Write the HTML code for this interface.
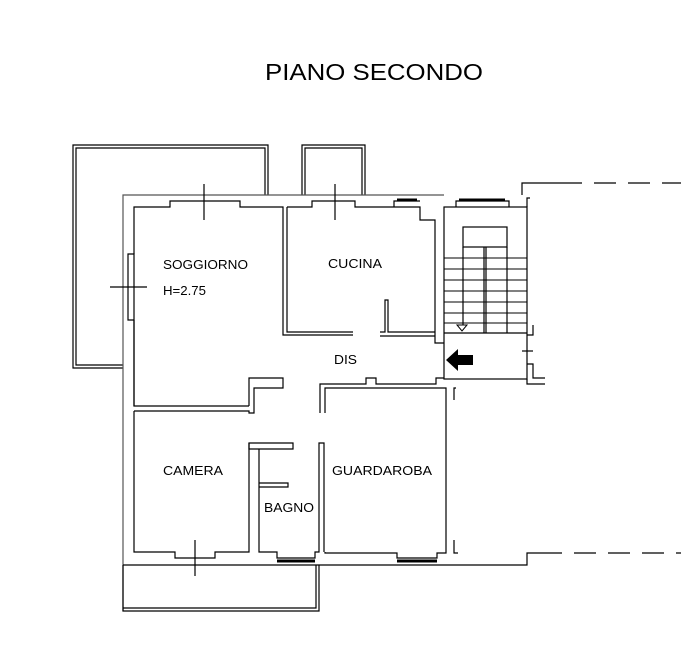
<!DOCTYPE html>
<html><head><meta charset="utf-8"><style>
html,body{margin:0;padding:0;background:#fff;width:681px;height:645px;overflow:hidden}
svg{display:block}
text{font-family:"Liberation Sans",sans-serif;fill:#000}
</style></head><body>
<svg width="681" height="645" viewBox="0 0 681 645" xmlns="http://www.w3.org/2000/svg">
<g fill="none" stroke="#000" stroke-width="1.2">
<polyline points="123,368 73,368 73,145 268,145 268,195"/>
<polyline points="123,365 76,365 76,148 265,148 265,195"/>
<polyline points="302,195 302,145 365,145 365,195"/>
<polyline points="305,195 305,148 362,148 362,195"/>
<polyline points="123,611 123,195 444,195" stroke="#555"/>
<polyline points="249,406 134,406 134,254 128,254 128,320 134,320"/>
<polyline points="134,254 134,207 170,207 170,201 240,201 240,207 283,207 283,335 353,335"/>
<polyline points="287,207 287,332 353,332"/>
<line x1="134" y1="320" x2="134" y2="406"/>
<polyline points="287,207 312,207 312,201 355,201 355,207 420,207 420,220 435,220 435,343 444,343"/>
<polyline points="380,332 385,332 385,300 388,300 388,332 435,332"/>
<line x1="380" y1="336" x2="435" y2="336"/>
<rect x="444" y="207" width="83" height="172"/>
<rect x="463" y="227" width="44" height="20"/>
<line x1="463" y1="247" x2="463" y2="325"/>
<line x1="507" y1="247" x2="507" y2="333"/>
<line x1="484" y1="247" x2="484" y2="333"/>
<line x1="486" y1="247" x2="486" y2="333"/>
<line x1="444" y1="333" x2="527" y2="333"/>
<polyline points="456,207 456,201 509,201 509,207"/>
<polyline points="394,207 394,201 420,201"/>
<polyline points="527,207 527,198 530,198"/>
<polyline points="522,195 522,183 560,183" />
<line x1="560" y1="183" x2="681" y2="183" stroke-dasharray="22,12"/>
<polyline points="533,325 533,335 527,335"/>
<line x1="522" y1="351" x2="533" y2="351"/>
<polyline points="527,364 533,364 533,378 545,378"/>
<polyline points="527,379 527,384 545,384"/>
<polyline points="134,411 249,411 249,413 254,413 254,388 283,388 283,378 249,378 249,406"/>
<polyline points="134,411 134,552 175,552 175,558 215,558 215,552 249,552 249,443 258,443"/>
<polyline points="249,443 249,449 293,449 293,443 258,443"/>
<polyline points="259,449 259,552 277,552 277,558 315,558 315,552 319,552 319,443 324,443 324,552"/>
<polyline points="259,483 288,483 288,487 259,487"/>
<polyline points="320,413 320,384 366,384 366,378 376,378 376,384 436,384 436,378 444,378"/>
<polyline points="325,413 325,388 446,388 446,553 437,553 437,558 397,558 397,553 325,553 325,552"/>
<polyline points="456,388 454,388 454,400"/>
<polyline points="454,540 454,553 458,553"/>
<polyline points="123,565 380,565 520,565 527,565 527,553 540,553"/>
<line x1="540" y1="553" x2="681" y2="553" stroke-dasharray="22,12"/>
<polyline points="123,565 123,611 319,611 319,565"/>
<polyline points="123,608 316,608 316,565"/>
<line x1="204" y1="184" x2="204" y2="220"/>
<line x1="335" y1="184" x2="335" y2="220"/>
<line x1="110" y1="287" x2="147" y2="287"/>
<line x1="195" y1="540" x2="195" y2="576"/>
</g>
<g stroke="#000" stroke-width="3">
<line x1="397" y1="200" x2="417" y2="200"/>
<line x1="459" y1="200" x2="505" y2="200"/>
<line x1="277" y1="561" x2="315" y2="561"/>
<line x1="397" y1="561" x2="437" y2="561"/>
</g>
<g stroke="#000" stroke-width="1">
<line x1="444" y1="258" x2="527" y2="258"/>
<line x1="444" y1="269" x2="527" y2="269"/>
<line x1="444" y1="280" x2="527" y2="280"/>
<line x1="444" y1="291" x2="527" y2="291"/>
<line x1="444" y1="302" x2="527" y2="302"/>
<line x1="444" y1="313" x2="527" y2="313"/>
<line x1="444" y1="323" x2="527" y2="323"/>
</g>
<polygon points="457,325 467,325 462,331" fill="#fff" stroke="#000"/>
<polygon points="446,360 458,349 458,355 473,355 473,365 458,365 458,371" fill="#000"/>
<text x="265" y="80" font-size="23" textLength="218" lengthAdjust="spacingAndGlyphs">PIANO SECONDO</text>
<text x="163" y="269" font-size="13" textLength="85" lengthAdjust="spacingAndGlyphs">SOGGIORNO</text>
<text x="163" y="295" font-size="13" textLength="43" lengthAdjust="spacingAndGlyphs">H=2.75</text>
<text x="328" y="268" font-size="13" textLength="54" lengthAdjust="spacingAndGlyphs">CUCINA</text>
<text x="334" y="364" font-size="13" textLength="23" lengthAdjust="spacingAndGlyphs">DIS</text>
<text x="163" y="475" font-size="13" textLength="60" lengthAdjust="spacingAndGlyphs">CAMERA</text>
<text x="264" y="512" font-size="13" textLength="50" lengthAdjust="spacingAndGlyphs">BAGNO</text>
<text x="332" y="475" font-size="13" textLength="100" lengthAdjust="spacingAndGlyphs">GUARDAROBA</text>
</svg>
</body></html>
